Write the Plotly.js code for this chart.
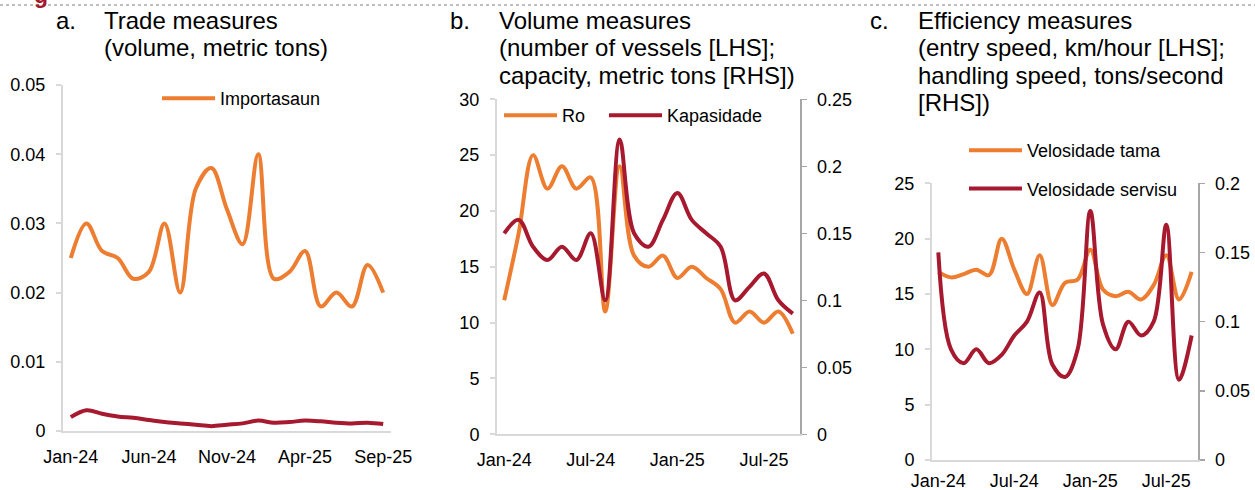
<!DOCTYPE html>
<html><head><meta charset="utf-8">
<script src="https://cdn.plot.ly/plotly-3.0.1.min.js"></script>
<style>html,body{margin:0;padding:0;background:#fff}#chart{width:1255px;height:490px}</style>
</head><body><div id="chart"></div>
<script>
const months = ['Jan-24','Feb-24','Mar-24','Apr-24','May-24','Jun-24','Jul-24','Aug-24','Sep-24','Oct-24','Nov-24','Dec-24',
                'Jan-25','Feb-25','Mar-25','Apr-25','May-25','Jun-25','Jul-25','Aug-25','Sep-25'];
// Panel a
const importasaun = [0.025,0.030,0.026,0.025,0.022,0.023,0.030,0.020,0.035,0.038,0.032,0.027,0.040,0.022,0.023,0.026,0.018,0.020,0.018,0.024,0.020];
const esportasaun = [0.0020,0.0030,0.0025,0.0021,0.0019,0.0016,0.0013,0.0011,0.0009,0.0007,0.0009,0.0011,0.0015,0.0012,0.0013,0.0015,0.0014,0.0012,0.0011,0.0012,0.0010];
// Panel b
const ro = [12,18,25,22,24,22,23,11,24,16,15,16,14,15,14,13,10,11,10,11,9];
const kapasidade = [0.15,0.16,0.14,0.13,0.14,0.13,0.15,0.10,0.22,0.15,0.14,0.16,0.18,0.16,0.15,0.14,0.10,0.11,0.12,0.10,0.09];
// Panel c
const velTama = [17.0,16.5,16.8,17.2,16.7,20.0,17.2,15.0,18.5,14.0,16.0,16.3,19.0,15.4,14.8,15.2,14.5,15.8,18.5,14.5,17.0];
const velServisu = [0.150,0.080,0.070,0.080,0.070,0.076,0.090,0.100,0.121,0.069,0.060,0.080,0.180,0.098,0.080,0.100,0.090,0.100,0.170,0.058,0.090];
const ticksA = ['Jan-24','Jun-24','Nov-24','Apr-25','Sep-25'];
const ticksBC = ['Jan-24','Jul-24','Jan-25','Jul-25'];

const W = 1255, H = 490;
const px = v => v / W, py = v => 1 - v / H;
const ORANGE = '#ED7D31', RED = '#A6192E';
const FONT = 'Arial, "Liberation Sans", sans-serif';
const LW = 4;

const traces = [
  {x: months, y: importasaun, name: 'Importasaun', type: 'scatter', mode: 'lines', xaxis: 'x', yaxis: 'y',
   line: {color: ORANGE, width: LW, shape: 'spline', smoothing: 1}, legend: 'legend'},
  {x: months, y: esportasaun, name: 'Esportasaun', type: 'scatter', mode: 'lines', xaxis: 'x', yaxis: 'y',
   line: {color: RED, width: LW, shape: 'spline', smoothing: 1}, showlegend: false},
  {x: months, y: ro, name: 'Ro', type: 'scatter', mode: 'lines', xaxis: 'x2', yaxis: 'y2',
   line: {color: ORANGE, width: LW, shape: 'spline', smoothing: 1}, legend: 'legend2'},
  {x: months, y: kapasidade, name: 'Kapasidade', type: 'scatter', mode: 'lines', xaxis: 'x2', yaxis: 'y3',
   line: {color: RED, width: LW, shape: 'spline', smoothing: 1}, legend: 'legend4'},
  {x: months, y: velTama, name: 'Velosidade tama', type: 'scatter', mode: 'lines', xaxis: 'x3', yaxis: 'y4',
   line: {color: ORANGE, width: LW, shape: 'spline', smoothing: 1}, legend: 'legend3', legendgroup: 'g1'},
  {x: months, y: velServisu, name: 'Velosidade servisu', type: 'scatter', mode: 'lines', xaxis: 'x3', yaxis: 'y5',
   line: {color: RED, width: LW, shape: 'spline', smoothing: 1}, legend: 'legend3', legendgroup: 'g2'}
];

const tickFont = {family: FONT, size: 18, color: '#000'};
function xax(domain, ticks, anchor, standoff) {
  return {domain: domain, anchor: anchor, type: 'category', range: [-0.5, 20.5],
    tickvals: ticks, ticktext: ticks, ticks: '', showgrid: false, zeroline: false,
    showline: true, linecolor: '#d9d9d9', linewidth: 2, tickfont: tickFont, ticklabelstandoff: standoff, fixedrange: true};
}
function yaxL(domain, range, dtick, anchor) {
  return {domain: domain, anchor: anchor, range: range, dtick: dtick, showgrid: false, zeroline: false,
    showline: true, linecolor: '#d9d9d9', linewidth: 2, ticks: 'outside', ticklen: 5, tickcolor: '#d9d9d9', tickwidth: 2,
    tickfont: tickFont, ticklabelstandoff: 7, fixedrange: true};
}
function yaxR(overlay, range, dtick, anchor) {
  return {overlaying: overlay, side: 'right', anchor: anchor, range: range, dtick: dtick, showgrid: false, zeroline: false,
    showline: true, linecolor: '#a6a6a6', linewidth: 1.5, ticks: 'outside', ticklen: 5, tickcolor: '#a6a6a6', tickwidth: 1.5,
    tickfont: tickFont, ticklabelstandoff: 7, fixedrange: true};
}

const titleFont = {family: FONT, size: 24, color: '#000'};
function tline(x, y, text) {
  return {xref: 'paper', yref: 'paper', x: px(x - 3), y: py(y), xanchor: 'left', yanchor: 'middle',
    text: text, showarrow: false, font: titleFont, align: 'left'};
}
const annotations = [
  tline(57, 20, 'a.'), tline(105, 20, 'Trade measures'), tline(105, 47, '(volume, metric tons)'),
  tline(451, 20, 'b.'), tline(500, 20, 'Volume measures'), tline(500, 47.5, '(number of vessels [LHS];'),
  tline(500, 75, 'capacity, metric tons [RHS])'),
  tline(871, 20, 'c.'), tline(919, 20, 'Efficiency measures'), tline(919, 47.5, '(entry speed, km/hour [LHS];'),
  tline(919, 75, 'handling speed, tons/second'), tline(919, 102.5, '[RHS])'),
  {xref: 'paper', yref: 'paper', x: px(41), y: py(-5), xanchor: 'center', yanchor: 'middle', text: '<b>g</b>',
   showarrow: false, font: {family: FONT, size: 23, color: RED}}
];

const legFont = {family: FONT, size: 18, color: '#000'};
const legBase = {xanchor: 'left', yanchor: 'top', orientation: 'v', font: legFont, itemwidth: 53,
  bgcolor: 'rgba(0,0,0,0)', borderwidth: 0};
const layout = {
  width: W, height: H, margin: {l: 0, r: 0, t: 0, b: 0}, paper_bgcolor: '#fff', plot_bgcolor: 'rgba(0,0,0,0)',
  font: {family: FONT, color: '#000'},
  xaxis: xax([px(63), px(391)], ticksA, 'y', 8),
  yaxis: yaxL([py(431), py(85)], [0, 0.05], 0.01, 'x'),
  xaxis2: xax([px(497), px(800)], ticksBC, 'y2', 8),
  yaxis2: yaxL([py(434.3), py(99.3)], [0, 30], 5, 'x2'),
  yaxis3: yaxR('y2', [0, 0.25], 0.05, 'x2'),
  xaxis3: xax([px(932), px(1198)], ticksBC, 'y4', 3),
  yaxis4: yaxL([py(460), py(183.3)], [0, 25], 5, 'x3'),
  yaxis5: yaxR('y4', [0, 0.2], 0.05, 'x3'),
  legend: Object.assign({}, legBase, {x: px(157), y: py(80)}),
  legend2: Object.assign({}, legBase, {x: px(499), y: py(97)}),
  legend4: Object.assign({}, legBase, {x: px(604), y: py(97)}),
  legend3: Object.assign({}, legBase, {x: px(964), y: py(132), traceorder: 'grouped', tracegroupgap: 12}),
  shapes: [
    {type: 'line', xref: 'paper', yref: 'paper', x0: 0, x1: 1, y0: py(5), y1: py(5),
     line: {color: '#7f7f7f', width: 1, dash: 'dot'}}
  ],
  annotations: annotations,
  showlegend: true
};

Plotly.newPlot('chart', traces, layout, {displayModeBar: false, staticPlot: true});
</script>
</body></html>
